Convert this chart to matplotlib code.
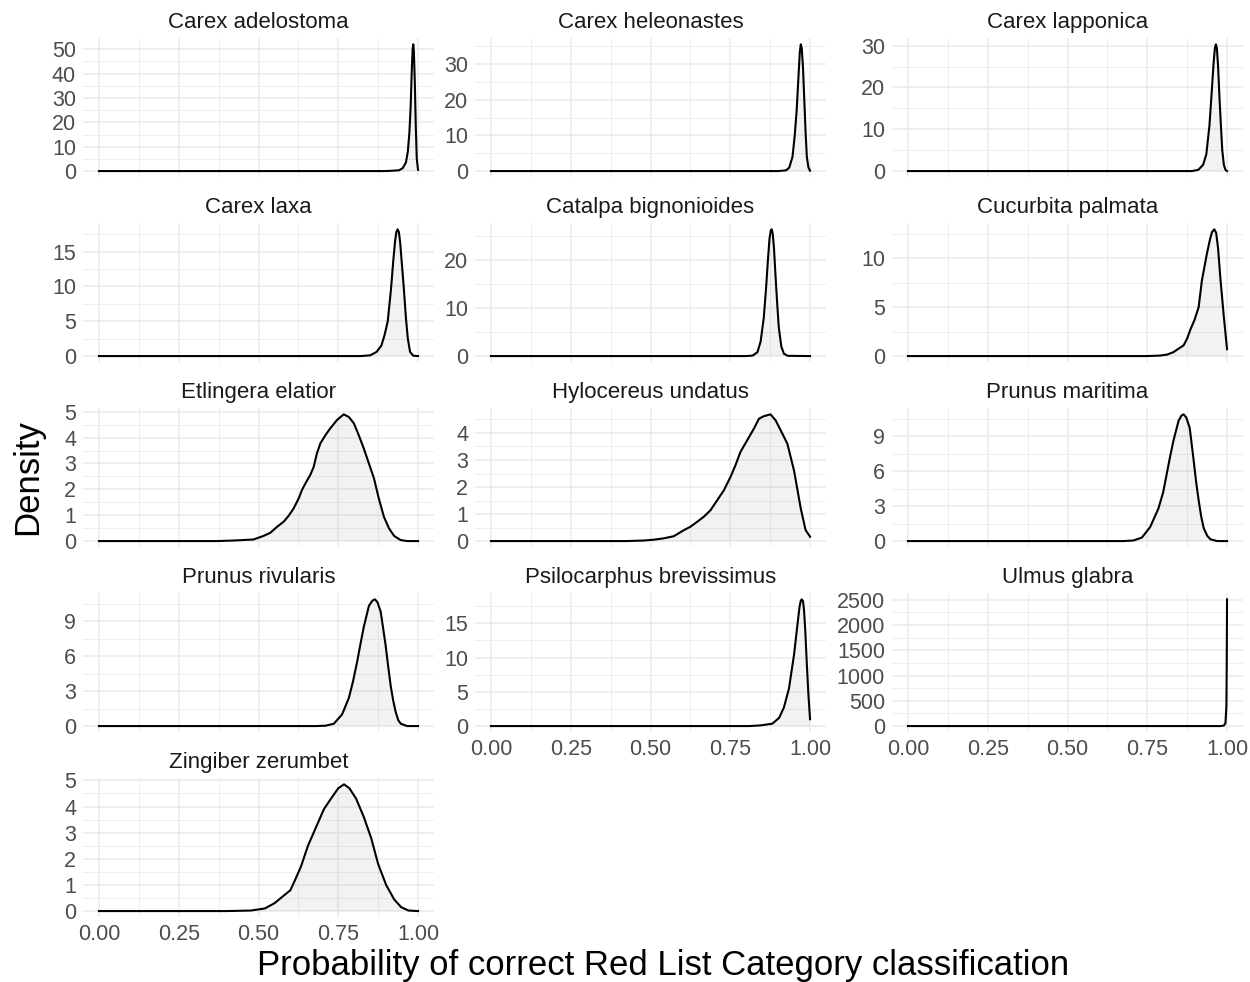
import matplotlib
matplotlib.use("Agg")
import matplotlib.pyplot as plt
from matplotlib.ticker import AutoMinorLocator, FixedLocator

plt.rcParams['font.family'] = ['Liberation Sans', 'DejaVu Sans']

# ---------------- data ----------------
species = ["Carex adelostoma", "Carex heleonastes", "Carex lapponica",
           "Carex laxa", "Catalpa bignonioides", "Cucurbita palmata",
           "Etlingera elatior", "Hylocereus undatus", "Prunus maritima",
           "Prunus rivularis", "Psilocarphus brevissimus", "Ulmus glabra",
           "Zingiber zerumbet"]

x_adelostoma = [0.0, 0.90, 0.94, 0.952, 0.962, 0.968, 0.973, 0.977, 0.980, 0.983, 0.985, 0.987, 0.990, 0.993, 0.996, 1.0]
y_adelostoma = [0.0, 0.0, 0.3, 1.2, 3.5, 8.0, 16.0, 27.0, 40.0, 50.0, 52.0, 49.0, 36.0, 18.0, 5.0, 0.5]

x_heleonastes = [0.0, 0.90, 0.925, 0.935, 0.945, 0.952, 0.958, 0.964, 0.968, 0.971, 0.974, 0.978, 0.982, 0.986, 0.990, 0.995, 1.0]
y_heleonastes = [0.0, 0.0, 0.2, 1.0, 4.0, 10.0, 17.0, 27.0, 33.5, 35.6, 34.5, 29.0, 20.0, 11.0, 4.0, 1.0, 0.1]

x_lapponica = [0.0, 0.89, 0.91, 0.925, 0.935, 0.945, 0.952, 0.958, 0.962, 0.965, 0.968, 0.972, 0.976, 0.980, 0.985, 0.990, 0.995, 1.0]
y_lapponica = [0.0, 0.0, 0.3, 1.5, 4.0, 11.0, 19.0, 26.0, 29.5, 30.3, 29.5, 25.0, 18.0, 12.0, 5.0, 1.5, 0.3, 0.0]

x_laxa = [0.0, 0.82, 0.85, 0.87, 0.885, 0.895, 0.905, 0.915, 0.922, 0.928, 0.932, 0.936, 0.940, 0.944, 0.948, 0.955, 0.962, 0.968, 0.975, 0.985, 1.0]
y_laxa = [0.0, 0.0, 0.1, 0.6, 1.5, 3.0, 5.0, 9.5, 13.5, 16.5, 17.8, 18.2, 17.8, 16.3, 14.0, 10.0, 5.5, 2.5, 0.6, 0.05, 0.0]

x_catalpa = [0.0, 0.80, 0.82, 0.835, 0.845, 0.855, 0.862, 0.868, 0.873, 0.877, 0.880, 0.883, 0.887, 0.892, 0.897, 0.902, 0.910, 0.918, 0.93, 1.0]
y_catalpa = [0.0, 0.0, 0.1, 0.8, 3.0, 8.0, 14.0, 20.0, 24.5, 26.2, 26.4, 25.5, 22.5, 16.5, 11.0, 6.0, 2.0, 0.5, 0.05, 0.0]

x_cucurbita = [0.0, 0.75, 0.79, 0.812, 0.832, 0.850, 0.864, 0.875, 0.885, 0.898, 0.911, 0.921, 0.937, 0.947, 0.953, 0.960, 0.966, 0.972, 0.979, 0.990, 1.0]
y_cucurbita = [0.0, 0.0, 0.05, 0.15, 0.4, 0.8, 1.1, 1.8, 2.7, 3.7, 5.0, 7.7, 10.5, 12.0, 12.7, 12.97, 12.6, 11.0, 8.0, 4.0, 0.7]

x_etlingera = [0.0, 0.369, 0.421, 0.484, 0.516, 0.537, 0.558, 0.579, 0.594, 0.610, 0.626, 0.636, 0.647,
               0.662, 0.673, 0.683, 0.694, 0.710, 0.725, 0.746, 0.767, 0.783, 0.799, 0.814, 0.830, 0.846,
               0.862, 0.877, 0.893, 0.909, 0.925, 0.945, 0.966, 1.0]
y_etlingera = [0.0, 0.0, 0.02, 0.06, 0.2, 0.32, 0.55, 0.75, 0.97, 1.26, 1.65, 1.97, 2.23,
               2.55, 2.87, 3.39, 3.78, 4.1, 4.36, 4.68, 4.9, 4.8, 4.55, 4.1, 3.58, 3.0,
               2.42, 1.65, 0.94, 0.49, 0.2, 0.04, 0.0, 0.0]

x_hylocereus = [0.0, 0.426, 0.479, 0.510, 0.541, 0.573, 0.604, 0.625, 0.646, 0.667, 0.688, 0.709, 0.730,
                0.751, 0.766, 0.782, 0.803, 0.824, 0.840, 0.855, 0.876, 0.892, 0.908, 0.929, 0.950,
                0.971, 0.986, 1.0]
y_hylocereus = [0.0, 0.0, 0.02, 0.05, 0.1, 0.18, 0.4, 0.53, 0.71, 0.9, 1.14, 1.51, 1.88,
                2.38, 2.8, 3.3, 3.73, 4.16, 4.53, 4.62, 4.69, 4.47, 4.1, 3.6, 2.6,
                1.2, 0.41, 0.16]

x_maritima = [0.0, 0.675, 0.707, 0.733, 0.759, 0.785, 0.800, 0.812, 0.822, 0.832, 0.848, 0.857, 0.864, 0.872, 0.883, 0.895, 0.903, 0.911, 0.919, 0.927, 0.938, 0.948, 0.969, 1.0]
y_maritima = [0.0, 0.0, 0.05, 0.3, 1.2, 2.8, 4.2, 5.9, 7.3, 8.6, 10.3, 10.75, 10.86, 10.6, 9.7, 7.0, 5.1, 3.5, 2.1, 1.1, 0.45, 0.15, 0.0, 0.0]

x_rivularis = [0.0, 0.68, 0.71, 0.736, 0.762, 0.783, 0.796, 0.809, 0.820, 0.830, 0.846, 0.857, 0.865, 0.873, 0.883, 0.898, 0.906, 0.914, 0.922, 0.930, 0.938, 0.946, 0.966, 1.0]
y_rivularis = [0.0, 0.0, 0.03, 0.2, 1.0, 2.4, 3.8, 5.5, 7.1, 8.5, 10.3, 10.75, 10.86, 10.6, 9.8, 7.0, 5.2, 3.5, 2.2, 1.2, 0.5, 0.2, 0.0, 0.0]

x_psilocarphus = [0.0, 0.81, 0.845, 0.882, 0.903, 0.918, 0.934, 0.950, 0.961, 0.967, 0.971, 0.974, 0.978, 0.981, 0.985, 0.990, 0.995, 1.0]
y_psilocarphus = [0.0, 0.0, 0.1, 0.35, 1.2, 2.7, 5.5, 10.5, 15.0, 17.4, 18.3, 18.5, 18.2, 17.0, 14.0, 9.0, 4.5, 1.0]

x_ulmus = [0.0, 0.98, 0.99, 0.995, 0.998, 0.999, 1.0]
y_ulmus = [0.0, 0.0, 10.0, 60.0, 400.0, 1200.0, 2510.0]

x_zingiber = [0.0, 0.40, 0.476, 0.52, 0.55, 0.57, 0.59, 0.60, 0.615, 0.633, 0.655, 0.68, 0.705, 0.727, 0.750, 0.768, 0.785, 0.806, 0.830, 0.853, 0.875, 0.90, 0.925, 0.947, 0.97, 1.0]
y_zingiber = [0.0, 0.0, 0.02, 0.1, 0.3, 0.5, 0.7, 0.8, 1.2, 1.7, 2.5, 3.2, 3.9, 4.3, 4.7, 4.85, 4.7, 4.3, 3.6, 2.8, 1.8, 1.0, 0.45, 0.15, 0.02, 0.0]

yticks_adelostoma = [0, 10, 20, 30, 40, 50]
yticks_heleonastes = [0, 10, 20, 30]
yticks_lapponica = [0, 10, 20, 30]
yticks_laxa = [0, 5, 10, 15]
yticks_catalpa = [0, 10, 20]
yticks_cucurbita = [0, 5, 10]
yticks_etlingera = [0, 1, 2, 3, 4, 5]
yticks_hylocereus = [0, 1, 2, 3, 4]
yticks_maritima = [0, 3, 6, 9]
yticks_rivularis = [0, 3, 6, 9]
yticks_psilocarphus = [0, 5, 10, 15]
yticks_ulmus = [0, 500, 1000, 1500, 2000, 2500]
yticks_zingiber = [0, 1, 2, 3, 4, 5]

xticks = [0.0, 0.25, 0.5, 0.75, 1.0]
xtick_labels = ["0.00", "0.25", "0.50", "0.75", "1.00"]

panels = [
    (x_adelostoma, y_adelostoma, yticks_adelostoma),
    (x_heleonastes, y_heleonastes, yticks_heleonastes),
    (x_lapponica, y_lapponica, yticks_lapponica),
    (x_laxa, y_laxa, yticks_laxa),
    (x_catalpa, y_catalpa, yticks_catalpa),
    (x_cucurbita, y_cucurbita, yticks_cucurbita),
    (x_etlingera, y_etlingera, yticks_etlingera),
    (x_hylocereus, y_hylocereus, yticks_hylocereus),
    (x_maritima, y_maritima, yticks_maritima),
    (x_rivularis, y_rivularis, yticks_rivularis),
    (x_psilocarphus, y_psilocarphus, yticks_psilocarphus),
    (x_ulmus, y_ulmus, yticks_ulmus),
    (x_zingiber, y_zingiber, yticks_zingiber),
]

# ---------------- layout ----------------
W, H = 1250, 982
fig = plt.figure(figsize=(W / 100, H / 100), dpi=100)
fig.patch.set_facecolor("white")

col_left = [83, 475, 892]
panel_w = 351
row_top0, row_pitch, panel_h = 38, 185, 139.4
ncol = 3
n = len(panels)
last_in_col = {}
for i in range(n):
    last_in_col[i % ncol] = i

grid_col = "#EBEBEB"
for i, (name, (xs, ys, yt)) in enumerate(zip(species, panels)):
    r, c = divmod(i, ncol)
    top = row_top0 + r * row_pitch
    ax = fig.add_axes([col_left[c] / W, (H - top - panel_h) / H, panel_w / W, panel_h / H])
    ax.set_axisbelow(True)
    ax.fill_between(xs, 0, ys, facecolor="grey", alpha=0.1, linewidth=0, zorder=2)
    ax.plot(xs, ys, color="black", lw=1.5, zorder=3, solid_joinstyle="round")
    ymax = max(ys)
    ax.set_xlim(-0.05, 1.05)
    ax.set_ylim(-0.05 * ymax, 1.05 * ymax)
    ax.xaxis.set_major_locator(FixedLocator(xticks))
    ax.xaxis.set_minor_locator(AutoMinorLocator(2))
    ax.yaxis.set_major_locator(FixedLocator(yt))
    ax.yaxis.set_minor_locator(AutoMinorLocator(2))
    ax.set_yticklabels([str(v) for v in yt])
    if i == last_in_col[c]:
        ax.set_xticklabels(xtick_labels)
    else:
        ax.set_xticklabels([])
    ax.grid(which="major", color=grid_col, lw=1.1)
    ax.grid(which="minor", color=grid_col, lw=0.6)
    for s in ax.spines.values():
        s.set_visible(False)
    ax.tick_params(which="both", length=0, labelsize=15.5, labelcolor="#4D4D4D")
    ax.tick_params(axis="y", pad=5)
    ax.tick_params(axis="x", pad=5)
    ax.set_facecolor("white")
    ax.annotate(name, xy=(0.5, 1.0), xycoords="axes fraction", xytext=(0, 11.5),
                textcoords="offset points", ha="center", va="center",
                fontsize=16, color="#1A1A1A")

fig.text(28 / W, 1 - 477 / H, "Density", rotation=90, fontsize=25,
         ha="center", va="center", color="black")
fig.text(663 / W, 1 - 965 / H, "Probability of correct Red List Category classification",
         fontsize=25, ha="center", va="center", color="black")

fig.savefig("out.png", dpi=100, facecolor="white")
